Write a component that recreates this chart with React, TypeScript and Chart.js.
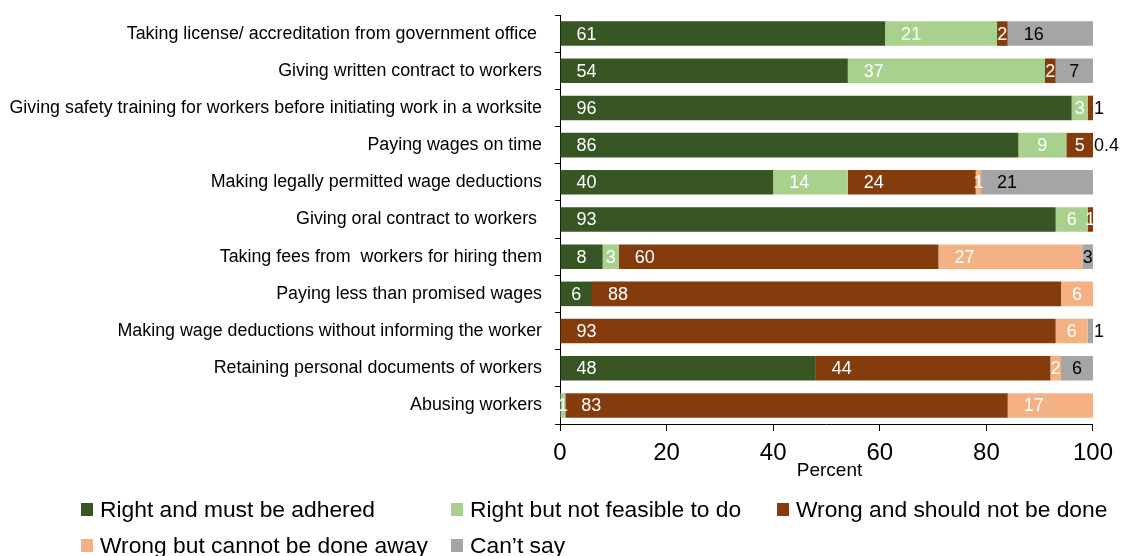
import React, { useEffect, useRef } from "react";
import { Chart, registerables } from "chart.js";

Chart.register(...registerables);

const categories = [
  "Taking license/ accreditation from government office ",
  "Giving written contract to workers",
  "Giving safety training for workers before initiating work in a worksite",
  "Paying wages on time",
  "Making legally permitted wage deductions",
  "Giving oral contract to workers ",
  "Taking fees from  workers for hiring them",
  "Paying less than promised wages",
  "Making wage deductions without informing the worker",
  "Retaining personal documents of workers",
  "Abusing workers",
];

const seriesNames = [
  "Right and must be adhered",
  "Right but not feasible to do",
  "Wrong and should not be done",
  "Wrong but cannot be done away",
  "Can\u2019t say",
];

const rightMust = [61, 54, 96, 86, 40, 93, 8, 6, 0, 48, 0];
const rightNotFeasible = [21, 37, 3, 9, 14, 6, 3, 0, 0, 0, 1];
const wrongShouldNot = [2, 2, 1, 5, 24, 1, 60, 88, 93, 44, 83];
const wrongCannot = [0, 0, 0, 0.4, 1, 0, 27, 6, 6, 2, 17];
const cantSay = [16, 7, 0, 0, 21, 0, 3, 0, 1, 6, 0];

const xTicks = [0, 20, 40, 60, 80, 100];

const colors = ["#375623", "#A9D18E", "#843C0C", "#F4B183", "#A5A5A5"];
const labelColors = ["#FFFFFF", "#FFFFFF", "#FFFFFF", "#FFFFFF", "#000000"];
// labels drawn just outside the bar end (row-dataset)
const outsideLabels = new Set(["2-2", "3-3", "8-4"]);

const FONT = "'Liberation Sans', Arial, sans-serif";

const valueLabelPlugin = {
  id: "valueLabels",
  afterDatasetsDraw(chart: any) {
    const ctx = chart.ctx;
    ctx.save();
    ctx.font = `18px ${FONT}`;
    ctx.textBaseline = "middle";
    chart.data.datasets.forEach((ds: any, di: number) => {
      const meta = chart.getDatasetMeta(di);
      meta.data.forEach((el: any, i: number) => {
        const v = ds.data[i];
        if (!v) return;
        const txt = v < 1 ? String(v) : String(Math.round(v));
        const start = Math.min(el.base, el.x);
        const end = Math.min(Math.max(el.base, el.x), chart.chartArea.right);
        const w = end - start;
        const y = el.y + 1;
        if (outsideLabels.has(`${i}-${di}`)) {
          ctx.fillStyle = "#000000";
          ctx.textAlign = "left";
          ctx.fillText(txt, end + 1, y);
        } else if (w > 60) {
          ctx.fillStyle = labelColors[di];
          ctx.textAlign = "left";
          ctx.fillText(txt, start + 16, y);
        } else {
          ctx.fillStyle = labelColors[di];
          ctx.textAlign = "center";
          ctx.fillText(txt, (start + end) / 2, y);
        }
      });
    });
    ctx.restore();
  },
};

const extrasPlugin = {
  id: "extras",
  afterDraw(chart: any) {
    const ctx = chart.ctx;
    const area = chart.chartArea;
    ctx.save();
    // axis title
    ctx.fillStyle = "#000000";
    ctx.font = `19px ${FONT}`;
    ctx.textAlign = "center";
    ctx.textBaseline = "middle";
    ctx.fillText("Percent", (area.left + area.right) / 2 + 3, 471);
    // legend
    const cols = [81, 451, 777];
    const rows = [509.5, 545.5];
    ctx.font = `22.8px ${FONT}`;
    ctx.textAlign = "left";
    chart.data.datasets.forEach((ds: any, i: number) => {
      const x = cols[i % 3];
      const y = rows[Math.floor(i / 3)];
      ctx.fillStyle = ds.backgroundColor;
      ctx.fillRect(x, y - 6.5, 12, 13);
      ctx.fillStyle = "#000000";
      ctx.fillText(ds.label, x + 19, y + 1);
    });
    ctx.restore();
  },
};

export default function App() {
  const ref = useRef<HTMLCanvasElement | null>(null);
  useEffect(() => {
    if (!ref.current) return;
    const values = [rightMust, rightNotFeasible, wrongShouldNot, wrongCannot, cantSay];
    const chart = new Chart(ref.current, {
      type: "bar",
      data: {
        labels: categories,
        datasets: values.map((d, i) => ({
          label: seriesNames[i],
          data: d,
          backgroundColor: colors[i],
          borderWidth: 0,
          barPercentage: 0.66,
          categoryPercentage: 1,
        })),
      },
      options: {
        indexAxis: "y",
        animation: false,
        responsive: false,
        layout: { padding: { top: 15, right: 28, left: 0, bottom: 0 } },
        plugins: {
          legend: { display: false },
          tooltip: { enabled: false },
        },
        scales: {
          x: {
            stacked: true,
            min: 0,
            max: 100,
            afterBuildTicks(scale: any) {
              scale.ticks = xTicks.map((v) => ({ value: v }));
            },
            afterFit(scale: any) {
              scale.height = 132;
            },
            border: { color: "#000000", width: 1 },
            grid: {
              drawOnChartArea: false,
              color: "#000000",
              tickLength: 7,
            },
            ticks: {
              color: "#000000",
              font: { size: 24, family: FONT },
              padding: 8,
              maxRotation: 0,
            },
          },
          y: {
            stacked: true,
            afterFit(scale: any) {
              scale.width = 560;
              scale.paddingTop = 0;
              scale.paddingBottom = 0;
            },
            border: { color: "#000000", width: 1 },
            grid: {
              drawOnChartArea: false,
              color: "#000000",
              tickLength: 5,
              offset: true,
            },
            ticks: {
              color: "#000000",
              font: { size: 17.85, family: FONT },
              padding: 13,
              autoSkip: false,
            },
          },
        },
      },
      plugins: [valueLabelPlugin, extrasPlugin],
    });
    return () => chart.destroy();
  }, []);
  return (
    <div style={{ position: "absolute", left: 0, top: 0, width: 1121, height: 556, background: "#ffffff" }}>
      <canvas ref={ref} width={1121} height={556} />
    </div>
  );
}
